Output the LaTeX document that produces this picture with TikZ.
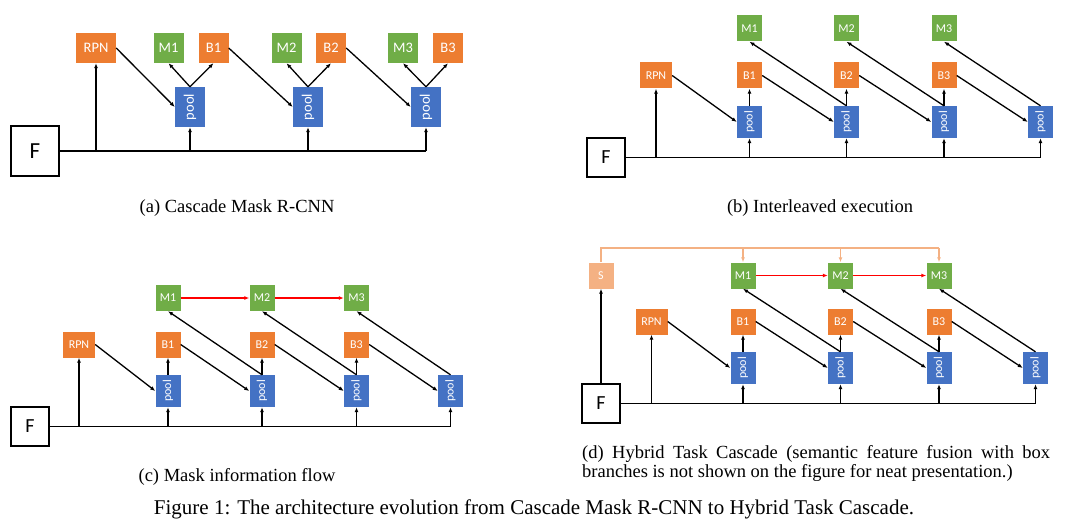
\documentclass[tikz,border=0pt]{standalone}
\usepackage{fontspec}
\setmainfont{Liberation Serif}
\newfontfamily\boxfont{Carlito}
\usetikzlibrary{arrows.meta}
\definecolor{boxorange}{HTML}{ED7D31}
\definecolor{boxgreen}{HTML}{70AD47}
\definecolor{boxblue}{HTML}{4472C4}
\definecolor{segorange}{HTML}{F4B183}
\definecolor{flowred}{HTML}{FF0000}
\begin{document}
\begin{tikzpicture}[x=1pt,y=-1pt,
	box/.style={inner sep=0pt,text=white,font=\boxfont\fontsize{12}{12}\selectfont,minimum width=25pt,minimum height=26pt},
	rpnbox/.style={box,fill=boxorange,minimum width=32pt},
	bbox/.style={box,fill=boxorange},
	mbox/.style={box,fill=boxgreen},
	poolbox/.style={box,fill=boxblue,minimum height=32pt},
	sbox/.style={box,fill=segorange},
	featbox/.style={draw,line width=1.6pt,inner sep=0pt,minimum width=38pt,minimum height=39pt,font=\boxfont\fontsize{20}{20}\selectfont},
	big/.style={minimum width=30pt,minimum height=30pt,font=\boxfont\fontsize{14.5}{14.5}\selectfont},
	flow/.style={line width=1.3pt,-{Latex[length=5pt,width=4pt]}},
	bus/.style={line width=1.8pt},
	mflow/.style={flowred,line width=1.2pt,-{Latex[length=5pt,width=4pt]}},
	sline/.style={segorange,line width=1.2pt},
	sflow/.style={sline,-{Latex[length=5pt,width=4pt]}},
	captext/.style={inner sep=0pt,font=\fontsize{18.5}{19}\selectfont}]
	\useasboundingbox (0,0) rectangle (1080,527);
	% (a) cascade mask r-cnn
	\node[featbox,minimum width=48pt,minimum height=50pt,font=\boxfont\fontsize{23}{23}\selectfont] (aF) at (35,151) {F};
	\node[rpnbox,big,minimum width=40pt] (aRPN) at (96,48) {RPN};
	\node[mbox,big] (aM1) at (168.5,48) {M1};
	\node[bbox,big] (aB1) at (213.5,48) {B1};
	\node[mbox,big] (aM2) at (286.5,48) {M2};
	\node[bbox,big] (aB2) at (331,48) {B2};
	\node[mbox,big] (aM3) at (403,48) {M3};
	\node[bbox,big] (aB3) at (448,48) {B3};
	\node[poolbox,big,minimum height=40pt] (aP1) at (190,107) {\rotatebox{90}{pool}};
	\node[poolbox,big,minimum height=40pt] (aP2) at (308,107) {\rotatebox{90}{pool}};
	\node[poolbox,big,minimum height=40pt] (aP3) at (426,107) {\rotatebox{90}{pool}};
	\draw[bus] (aF.east) -- (aP3 |- aF.east);
	\foreach \n in {aRPN,aP1,aP2,aP3} \draw[flow] (\n |- aF.east) -- (\n.south);
	\draw[flow] (aRPN.east) -- (aP1.west);
	\draw[flow] (aB1.east) -- (aP2.west);
	\draw[flow] (aB2.east) -- (aP3.west);
	\foreach \i in {1,2,3} {
		\draw[flow] (aP\i.north) -- (aM\i.south);
		\draw[flow] (aP\i.north) -- (aB\i.south);
	}
	\node[captext] (capA) at (237,208) {(a) Cascade Mask R-CNN};
	% (b) interleaved execution
	\node[featbox] (bF) at (606,157.5) {F};
	\node[rpnbox] (bRPN) at (656,75.5) {RPN};
	\node[mbox] (bM1) at (749.5,28.5) {M1};
	\node[mbox] (bM2) at (846.5,28.5) {M2};
	\node[mbox] (bM3) at (944,28.5) {M3};
	\node[bbox] (bB1) at (749.5,75.5) {B1};
	\node[bbox] (bB2) at (846.5,75.5) {B2};
	\node[bbox] (bB3) at (944,75.5) {B3};
	\node[poolbox] (bP1) at (749.5,122) {\rotatebox{90}{pool}};
	\node[poolbox] (bP2) at (846.5,122) {\rotatebox{90}{pool}};
	\node[poolbox] (bP3) at (944,122) {\rotatebox{90}{pool}};
	\node[poolbox] (bP4) at (1040.5,122) {\rotatebox{90}{pool}};
	\draw[bus] (bF.east) -- (bP4 |- bF.east);
	\foreach \n in {bRPN,bP1,bP2,bP3,bP4} \draw[flow] (\n |- bF.east) -- (\n.south);
	\draw[flow] (bRPN.east) -- (bP1.west);
	\foreach \i/\j in {1/2,2/3,3/4} {
		\draw[flow] (bB\i.east) -- (bP\j.west);
		\draw[flow] (bP\i.north) -- (bB\i.south);
		\draw[flow] (bP\j.north) -- (bM\i.south);
	}
	\node[captext] (capB) at (820,208) {(b) Interleaved execution};
	% (c) mask information flow
	\node[featbox] (cF) at (30,426.5) {F};
	\node[rpnbox] (cRPN) at (79,344.5) {RPN};
	\node[mbox] (cM1) at (168,298) {M1};
	\node[mbox] (cM2) at (262,298) {M2};
	\node[mbox] (cM3) at (356.5,298) {M3};
	\node[bbox] (cB1) at (168,344.5) {B1};
	\node[bbox] (cB2) at (262,344.5) {B2};
	\node[bbox] (cB3) at (356.5,344.5) {B3};
	\node[poolbox] (cP1) at (168,391) {\rotatebox{90}{pool}};
	\node[poolbox] (cP2) at (262,391) {\rotatebox{90}{pool}};
	\node[poolbox] (cP3) at (356.5,391) {\rotatebox{90}{pool}};
	\node[poolbox] (cP4) at (450.5,391) {\rotatebox{90}{pool}};
	\draw[bus] (cF.east) -- (cP4 |- cF.east);
	\foreach \n in {cRPN,cP1,cP2,cP3,cP4} \draw[flow] (\n |- cF.east) -- (\n.south);
	\draw[flow] (cRPN.east) -- (cP1.west);
	\foreach \i/\j in {1/2,2/3,3/4} {
		\draw[flow] (cB\i.east) -- (cP\j.west);
		\draw[flow] (cP\i.north) -- (cB\i.south);
		\draw[flow] (cP\j.north) -- (cM\i.south);
	}
	\draw[mflow] (cM1) -- (cM2);
	\draw[mflow] (cM2) -- (cM3);
	\node[captext] (capC) at (237,477) {(c) Mask information flow};
	% (d) hybrid task cascade
	\node[featbox] (dF) at (601,403.5) {F};
	\node[sbox] (dS) at (601,275.5) {S};
	\node[rpnbox] (dRPN) at (651.5,321.5) {RPN};
	\node[mbox] (dM1) at (743,275.5) {M1};
	\node[mbox] (dM2) at (840.5,275.5) {M2};
	\node[mbox] (dM3) at (939,275.5) {M3};
	\node[bbox] (dB1) at (743,321.5) {B1};
	\node[bbox] (dB2) at (840.5,321.5) {B2};
	\node[bbox] (dB3) at (939,321.5) {B3};
	\node[poolbox] (dP1) at (743,368) {\rotatebox{90}{pool}};
	\node[poolbox] (dP2) at (840.5,368) {\rotatebox{90}{pool}};
	\node[poolbox] (dP3) at (939,368) {\rotatebox{90}{pool}};
	\node[poolbox] (dP4) at (1035.5,368) {\rotatebox{90}{pool}};
	\draw[bus] (dF.east) -- (dP4 |- dF.east);
	\foreach \n in {dRPN,dP1,dP2,dP3,dP4} \draw[flow] (\n |- dF.east) -- (\n.south);
	\draw[flow] (dF) -- (dS);
	\draw[flow] (dRPN.east) -- (dP1.west);
	\foreach \i/\j in {1/2,2/3,3/4} {
		\draw[flow] (dB\i.east) -- (dP\j.west);
		\draw[flow] (dP\i.north) -- (dB\i.south);
		\draw[flow] (dP\j.north) -- (dM\i.south);
	}
	\draw[mflow] (dM1) -- (dM2);
	\draw[mflow] (dM2) -- (dM3);
	\coordinate (dT) at (939,248);
	\draw[sline] (dS.north) |- (dT);
	\foreach \i in {1,2,3} \draw[sflow] (dM\i.north |- dT) -- (dM\i.north);
	\node[captext,anchor=base west,text width=468pt,align=justify] (capD) at (582,458)
		{(d) Hybrid Task Cascade (semantic feature fusion with box\linebreak branches is not shown on the figure for neat presentation.)};
	% figure caption
	\node[captext,font=\fontsize{21}{21}\selectfont] (capFig) at (534,509) {Figure 1: The architecture evolution from Cascade Mask R-CNN to Hybrid Task Cascade.};
\end{tikzpicture}
\end{document}
